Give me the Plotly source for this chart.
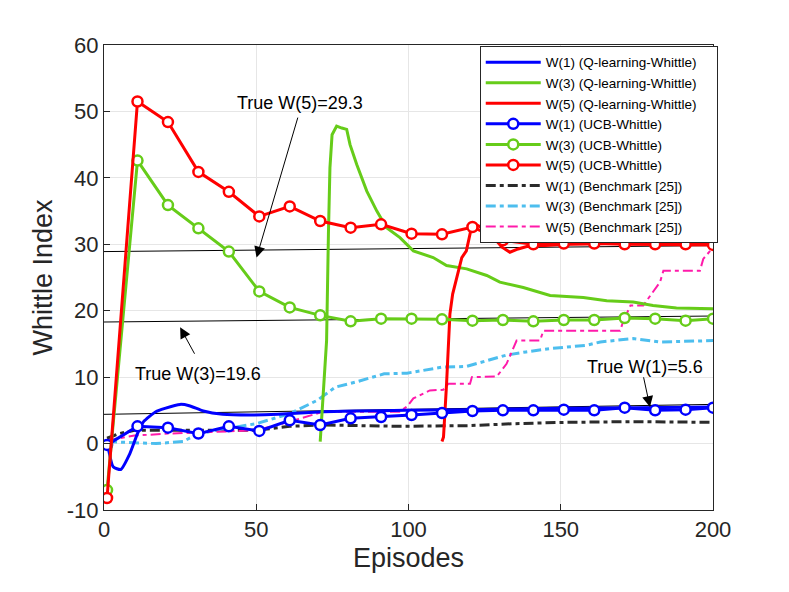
import plotly.graph_objects as go

# ---------------- data ----------------
ucb_x = [1, 11, 21, 31, 41, 51, 61, 71, 81, 91, 101, 111, 121, 131, 141, 151, 161, 171, 181, 191, 200]
ucb_w1 = [-0.2, 2.6, 2.4, 1.5, 2.6, 1.9, 3.5, 2.8, 3.8, 4.0, 4.3, 4.6, 4.9, 5.0, 5.0, 5.1, 5.0, 5.4, 5.0, 5.1, 5.4]
ucb_w3 = [-7.0, 42.6, 35.9, 32.4, 28.9, 22.9, 20.5, 19.3, 18.4, 18.8, 18.8, 18.7, 18.5, 18.6, 18.4, 18.6, 18.6, 18.9, 18.8, 18.5, 18.8]
ucb_w5 = [-8.2, 51.5, 48.4, 40.9, 37.9, 34.2, 35.7, 33.5, 32.5, 33.0, 31.6, 31.5, 32.6, 30.6, 30.0, 30.1, 30.1, 30.0, 30.0, 30.0, 29.9]

q_w1_x = [1, 3, 5.5, 8.5, 11, 13, 17, 20, 25, 28, 32.6, 39, 48, 57, 72, 83, 99, 120, 150, 175, 200]
q_w1_y = [0.3, -3.5, -3.9, -1.5, 1.5, 3.3, 4.8, 5.3, 5.9, 5.7, 4.9, 4.4, 4.3, 4.4, 4.8, 4.9, 5.0, 5.1, 5.3, 5.4, 5.5]

q_w3_x = [71, 73.1, 73.7, 74.2, 74.9, 76.4, 78.1, 79.7, 80.8, 83, 86.3, 89.6, 92.8, 97.2, 101.6,
          108.1, 112.5, 119.1, 125.7, 130, 137.7, 146.5, 157.4, 165.1, 173.8, 180.3, 188, 200]
q_w3_y = [0.3, 15.5, 31.5, 41.5, 46.5, 47.8, 47.5, 47.3, 45, 42, 38, 35, 32.5, 31, 29,
          28, 26.8, 26.3, 25.3, 24.3, 23.5, 22.3, 22.0, 21.5, 21.3, 20.8, 20.4, 20.3]

q_w5_x = [111, 111.5, 112.5, 113.6, 114.5, 116, 117.5, 119, 120.8, 122, 125, 128, 130.6, 133.3,
          136, 140, 145, 152, 165, 180, 200]
q_w5_y = [0.3, 1.0, 9.0, 19.5, 22.5, 25.5, 28, 29, 32.8, 33, 32.3, 31, 29.6, 28.8,
          29.3, 29.8, 29.8, 30.0, 30.1, 30.1, 30.2]

bm_w1_x = [1, 5, 10, 17, 30, 50, 61, 72, 97, 120, 135, 152, 174, 200]
bm_w1_y = [0.8, 1.5, 2.0, 2.0, 2.1, 2.0, 2.6, 2.8, 2.6, 2.7, 3.0, 3.2, 3.3, 3.2]

bm_w3_x = [1, 17, 26, 28, 31.5, 38, 50, 61, 70, 76, 83, 92, 99.5, 111, 119, 125.6, 132, 138.6,
           146.5, 158.5, 163, 173.8, 182.7, 200]
bm_w3_y = [0.3, 0.0, 0.3, 0.8, 1.5, 2.1, 3.0, 4.5, 6.5, 8.5, 9.3, 10.5, 10.6, 11.5, 11.6, 12.5, 13.3, 13.8,
           14.3, 14.8, 15.3, 15.8, 15.3, 15.5]

bm_w5_x = [1, 10, 21, 50, 61, 72, 97, 99.6, 101.6, 107, 111.4, 113.1, 120.2, 120.8, 129, 132.2,
           135.5, 143.2, 144.3, 169.5, 170.6, 172.9, 177.1, 178.2, 182.6, 183.7, 195.7, 196.8, 200]
bm_w5_y = [0.5, 1.2, 1.5, 2.0, 3.3, 4.8, 4.8, 5.6, 6.8, 8.0, 8.1, 9.0, 9.0, 10.0, 10.1, 12.0,
           15.5, 15.5, 17.0, 17.0, 18.5, 20.8, 20.8, 21.5, 24.3, 26.0, 26.0, 27.8, 29.5]

# "true" reference lines (as drawn, slightly tilted)
true_x = [0, 200]
true_w1_line = [4.4, 5.9]
true_w3_line = [18.3, 19.2]
true_w5_line = [28.9, 29.8]

x_ticks = [0, 50, 100, 150, 200]
y_ticks = [-10, 0, 10, 20, 30, 40, 50, 60]
y_tick_labels = ["-10", "0", "10", "20", "30", "40", "50", "60"]

# ---------------- style ----------------
BLUE = "#0000FF"
GREEN = "#66CC19"
RED = "#FF0000"
BLACK = "#2B2B2B"
CYAN = "#4DBEEE"
PINK = "#FF1AAA"
FONT = "Liberation Sans, Arial, Helvetica, sans-serif"
DASH = "10px,4px,4px,4px"
PAD = "\u00a0" * 4  # widen legend box a little, like the reference

fig = go.Figure()

for yv in (true_w1_line, true_w3_line, true_w5_line):
    fig.add_trace(go.Scatter(x=true_x, y=yv, mode="lines", line=dict(color="black", width=1),
                             showlegend=False, hoverinfo="skip"))

fig.add_trace(go.Scatter(x=bm_w1_x, y=bm_w1_y, mode="lines", name="W(1) (Benchmark [25])",
                         line=dict(color=BLACK, width=3, dash=DASH), legendrank=7))
fig.add_trace(go.Scatter(x=bm_w3_x, y=bm_w3_y, mode="lines", name="W(3) (Benchmark [25])",
                         line=dict(color=CYAN, width=3, dash=DASH), legendrank=8))
fig.add_trace(go.Scatter(x=bm_w5_x, y=bm_w5_y, mode="lines", name="W(5) (Benchmark [25])",
                         line=dict(color=PINK, width=2, dash=DASH), legendrank=9))

fig.add_trace(go.Scatter(x=q_w1_x, y=q_w1_y, mode="lines", name="W(1) (Q-learning-Whittle)" + PAD,
                         line=dict(color=BLUE, width=3, shape="spline", smoothing=0.5), legendrank=1))
fig.add_trace(go.Scatter(x=q_w3_x, y=q_w3_y, mode="lines", name="W(3) (Q-learning-Whittle)",
                         line=dict(color=GREEN, width=3), legendrank=2))
fig.add_trace(go.Scatter(x=q_w5_x, y=q_w5_y, mode="lines", name="W(5) (Q-learning-Whittle)",
                         line=dict(color=RED, width=3), legendrank=3))

for yv, col, nm, rk in ((ucb_w1, BLUE, "W(1) (UCB-Whittle)", 4),
                        (ucb_w3, GREEN, "W(3) (UCB-Whittle)", 5),
                        (ucb_w5, RED, "W(5) (UCB-Whittle)", 6)):
    fig.add_trace(go.Scatter(x=ucb_x, y=yv, mode="lines+markers", name=nm,
                             line=dict(color=col, width=3),
                             marker=dict(symbol="circle", size=10, color="white", line=dict(width=2.5, color=col)),
                             legendrank=rk))

# annotations
ann_font = dict(family=FONT, size=18, color="black")
arrow_style = dict(showarrow=True, arrowhead=2, arrowsize=2.2, arrowwidth=1, arrowcolor="black", text="",
                   axref="x", ayref="y", xref="x", yref="y")
fig.add_annotation(x=50.1, y=28.0, ax=63.8, ay=49.3, **arrow_style)
fig.add_annotation(x=64.4, y=51.2, xref="x", yref="y", text="True W(5)=29.3", showarrow=False, font=ann_font)
fig.add_annotation(x=25.0, y=17.5, ax=30.0, ay=13.3, **arrow_style)
fig.add_annotation(x=31.0, y=10.5, xref="x", yref="y", text="True W(3)=19.6", showarrow=False, font=ann_font)
fig.add_annotation(x=179.3, y=5.5, ax=177.1, ay=10.2, **arrow_style)
fig.add_annotation(x=177.7, y=11.6, xref="x", yref="y", text="True W(1)=5.6", showarrow=False, font=ann_font)

axis_common = dict(showgrid=True, gridcolor="#E6E6E6", gridwidth=1, zeroline=False,
                   showline=True, linecolor="#262626", linewidth=1, mirror=True,
                   ticks="inside", ticklen=6, tickcolor="#262626", automargin=False,
                   tickfont=dict(family=FONT, size=22, color="#262626"))

# page body has an 8px default margin, so the figure is drawn 8px in from the top-left
fig.update_layout(
    width=781, height=584,
    margin=dict(l=96, r=76, t=37, b=82),
    paper_bgcolor="white", plot_bgcolor="white",
    font=dict(family=FONT, color="#262626"),
    xaxis=dict(range=[0, 200], tickvals=x_ticks,
               title=dict(text="Episodes", font=dict(family=FONT, size=27), standoff=6),
               **axis_common),
    yaxis=dict(range=[-10, 60], tickvals=y_ticks, ticktext=y_tick_labels,
               title=dict(text="Whittle Index", font=dict(family=FONT, size=27), standoff=6),
               **axis_common),
    legend=dict(x=0.617, y=0.998, xanchor="left", yanchor="top", bgcolor="white",
                bordercolor="#262626", borderwidth=1, font=dict(family=FONT, size=13.5, color="black"),
                itemwidth=55, tracegroupgap=0, traceorder="normal"),
    showlegend=True,
)

fig.write_html("out.html")
